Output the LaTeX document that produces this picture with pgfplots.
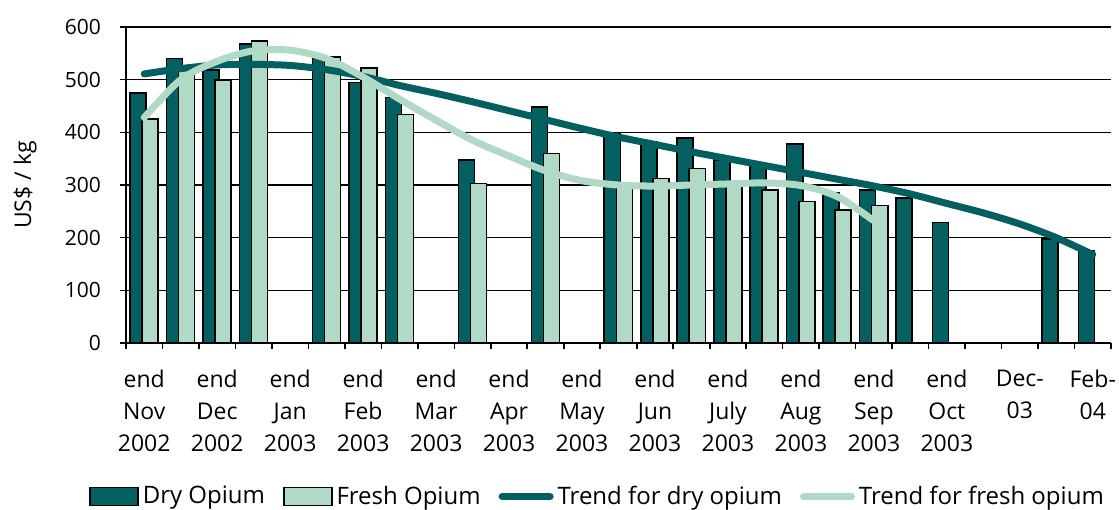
\documentclass[border=0pt]{standalone}
\usepackage{fontspec}
\setmainfont{Open Sans}
\usepackage{pgfplots}
\pgfplotsset{compat=1.18}
\definecolor{dark}{HTML}{046060}
\definecolor{light}{HTML}{B0D9C6}
\pgfplotsset{
  barleg/.style={legend image code/.code={\draw[##1] (0pt,-4.5pt) rectangle (24pt,4.5pt);}},
  lineleg/.style={legend image code/.code={\draw[##1] (0pt,0pt) -- (24pt,0pt);}},
}
\begin{document}
\begin{tikzpicture}
\path[use as bounding box] (-63pt,-83pt) rectangle (496.5pt,171.5pt);
\begin{axis}[
  at={(0,0)}, anchor=south west,
  scale only axis, width=492.5pt, height=158pt,
  xmin=-0.5, xmax=26.5, ymin=0, ymax=600,
  axis x line*=bottom, axis y line*=left,
  axis line style={black, line width=0.9pt},
  ytick={0,100,...,600}, ymajorgrids,
  grid style={black, line width=0.75pt},
  tick align=outside, major tick length=3pt,
  tick style={black, line width=0.8pt},
  xtick={-0.5,0.5,...,26.5}, xticklabels={},
  extra x ticks={0,2,...,26},
  extra x tick labels={{end\\Nov\\2002},{end\\Dec\\2002},{end\\Jan\\2003},{end\\Feb\\2003},{end\\Mar\\2003},{end\\Apr\\2003},{end\\May\\2003},{end\\Jun\\2003},{end\\July\\2003},{end\\Aug\\2003},{end\\Sep\\2003},{end\\Oct\\2003},{Dec-\\03},{Feb-\\04}},
  extra x tick style={major tick length=0pt, grid=none},
  xticklabel style={font=\fontsize{11.5}{15.9}\selectfont, align=center, anchor=north, yshift=-10pt},
  yticklabel style={font=\fontsize{10.5}{12}\selectfont, xshift=-6pt},
  /pgf/number format/assume math mode=true,
  ylabel={US\$ / kg},
  ylabel style={at={(axis description cs:-0.1025,0.5)}, anchor=center, font=\fontsize{11.5}{13}\selectfont},
  legend columns=4,
  legend cell align=left,
  legend style={draw=none, at={(0.5,0)}, anchor=center, xshift=-10pt, yshift=-76.75pt,
    font=\fontsize{12}{13}\selectfont, inner sep=0pt,
    /tikz/every even column/.append style={column sep=7pt}},
]
\addplot[ybar, bar width=0.44, bar shift=-0.17, fill=dark, draw=black, line width=0.8pt, barleg]
  coordinates {(0,475) (1,540) (2,518) (3,568) (5,540) (6,495) (7,466) (9,348) (11,448)
  (13,398) (14,382) (15,389) (16,348) (17,335) (18,378) (19,285) (20,290) (21,275) (22,229) (25,198) (26,176)};
\addlegendentry{Dry Opium}
\addplot[ybar, bar width=0.44, bar shift=0.16, fill=light, draw=black, line width=0.8pt, barleg]
  coordinates {(0,425) (1,522) (2,499) (3,573) (5,543) (6,522) (7,434) (9,303) (11,360)
  (13,300) (14,312) (15,331) (16,303) (17,290) (18,269) (19,252) (20,261)};
\addlegendentry{Fresh Opium}
\addplot[dark, line width=3.5pt, smooth, no marks, line cap=round, lineleg]
  coordinates {(0,511) (1,521) (2,528) (3,529) (4,527) (5,519) (6,506) (7,489) (8,474) (9,458)
  (10,441) (11,424) (12,407) (13,391) (14,377) (15,363) (16,350) (17,337) (18,324) (19,311)
  (20,298) (21,283) (22,265) (23,247) (24,226) (25,200) (26,168)};
\addlegendentry{Trend for dry opium}
\addplot[light, line width=3.5pt, smooth, no marks, line cap=round, lineleg]
  coordinates {(0,428) (1,500) (2,535) (3,555) (4,556) (5,540) (6,505) (7,463) (8,423) (9,385)
  (10,355) (11,327) (12,308) (13,300) (14,298) (15,300) (16,302) (17,304) (18,299) (19,278) (20,232)};
\addlegendentry{Trend for fresh opium}
\end{axis}
\end{tikzpicture}
\end{document}
